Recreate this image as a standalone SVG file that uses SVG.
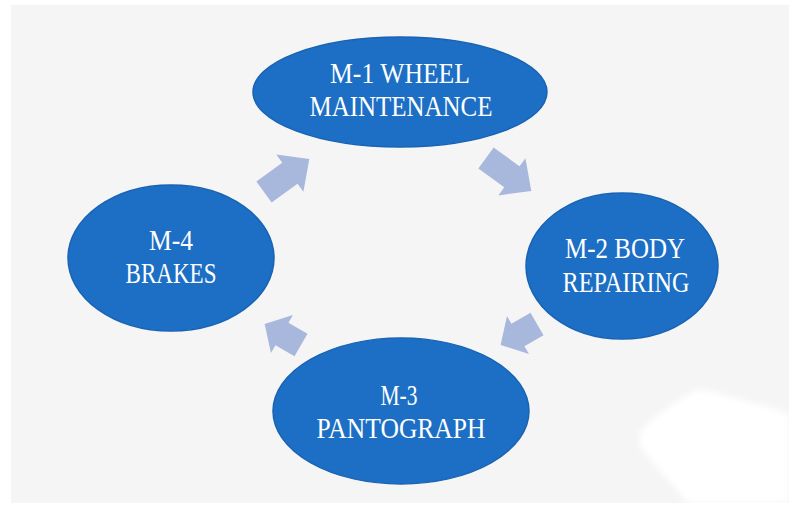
<svg xmlns="http://www.w3.org/2000/svg" width="789" height="507" viewBox="0 0 789 507">
<defs>
<style>
.node{fill:#1c6fc4;stroke:#1863b3;stroke-width:1.5}
.lbl{font-family:"Liberation Serif","DejaVu Serif",serif;font-size:30px;fill:#ffffff;text-anchor:middle}
.arrow{fill:#a8b7dc}
</style>
<filter id="soft" x="-20%" y="-20%" width="140%" height="140%"><feGaussianBlur stdDeviation="3"/></filter>
</defs>
<rect width="789" height="507" fill="#ffffff"/>
<rect x="11" y="5" width="778" height="498" fill="#f5f5f5"/>
<path d="M640,432 C655,415 675,402 692,392 C705,386 722,395 742,400 C762,405 780,410 789,414 L789,503 L688,503 C670,482 652,462 640,446 Z" fill="#ffffff" filter="url(#soft)"/>
<g id="connectors">
<path class="arrow" d="M0,-13 H32 V-23 L56,0 L32,23 V13 H0 Z" transform="translate(264,192) rotate(-36)"/>
<path class="arrow" d="M0,-13 H32 V-23 L56,0 L32,23 V13 H0 Z" transform="translate(486,158) rotate(36)"/>
<path class="arrow" d="M0,-13 H22 V-22 L42,0 L22,22 V13 H0 Z" transform="translate(537,324) rotate(150)"/>
<path class="arrow" d="M0,-13 H22 V-22 L42,0 L22,22 V13 H0 Z" transform="translate(301,345) rotate(210)"/>
</g>
<g id="m1">
<ellipse class="node" cx="400" cy="92" rx="147" ry="55"/>
<text class="lbl" x="400" y="83" textLength="140" lengthAdjust="spacingAndGlyphs">M-1 WHEEL</text>
<text class="lbl" x="401" y="116" textLength="183" lengthAdjust="spacingAndGlyphs">MAINTENANCE</text>
</g>
<g id="m2">
<ellipse class="node" cx="622" cy="266" rx="96" ry="73"/>
<text class="lbl" x="625" y="258" textLength="120" lengthAdjust="spacingAndGlyphs">M-2 BODY</text>
<text class="lbl" x="626" y="292" textLength="127" lengthAdjust="spacingAndGlyphs">REPAIRING</text>
</g>
<g id="m3">
<ellipse class="node" cx="401" cy="411" rx="128" ry="73"/>
<text class="lbl" x="399" y="405" textLength="37" lengthAdjust="spacingAndGlyphs">M-3</text>
<text class="lbl" x="401" y="438" textLength="169" lengthAdjust="spacingAndGlyphs">PANTOGRAPH</text>
</g>
<g id="m4">
<ellipse class="node" cx="171" cy="258" rx="103" ry="73"/>
<text class="lbl" x="171" y="250" textLength="44" lengthAdjust="spacingAndGlyphs">M-4</text>
<text class="lbl" x="171" y="283" textLength="91" lengthAdjust="spacingAndGlyphs">BRAKES</text>
</g>
</svg>
